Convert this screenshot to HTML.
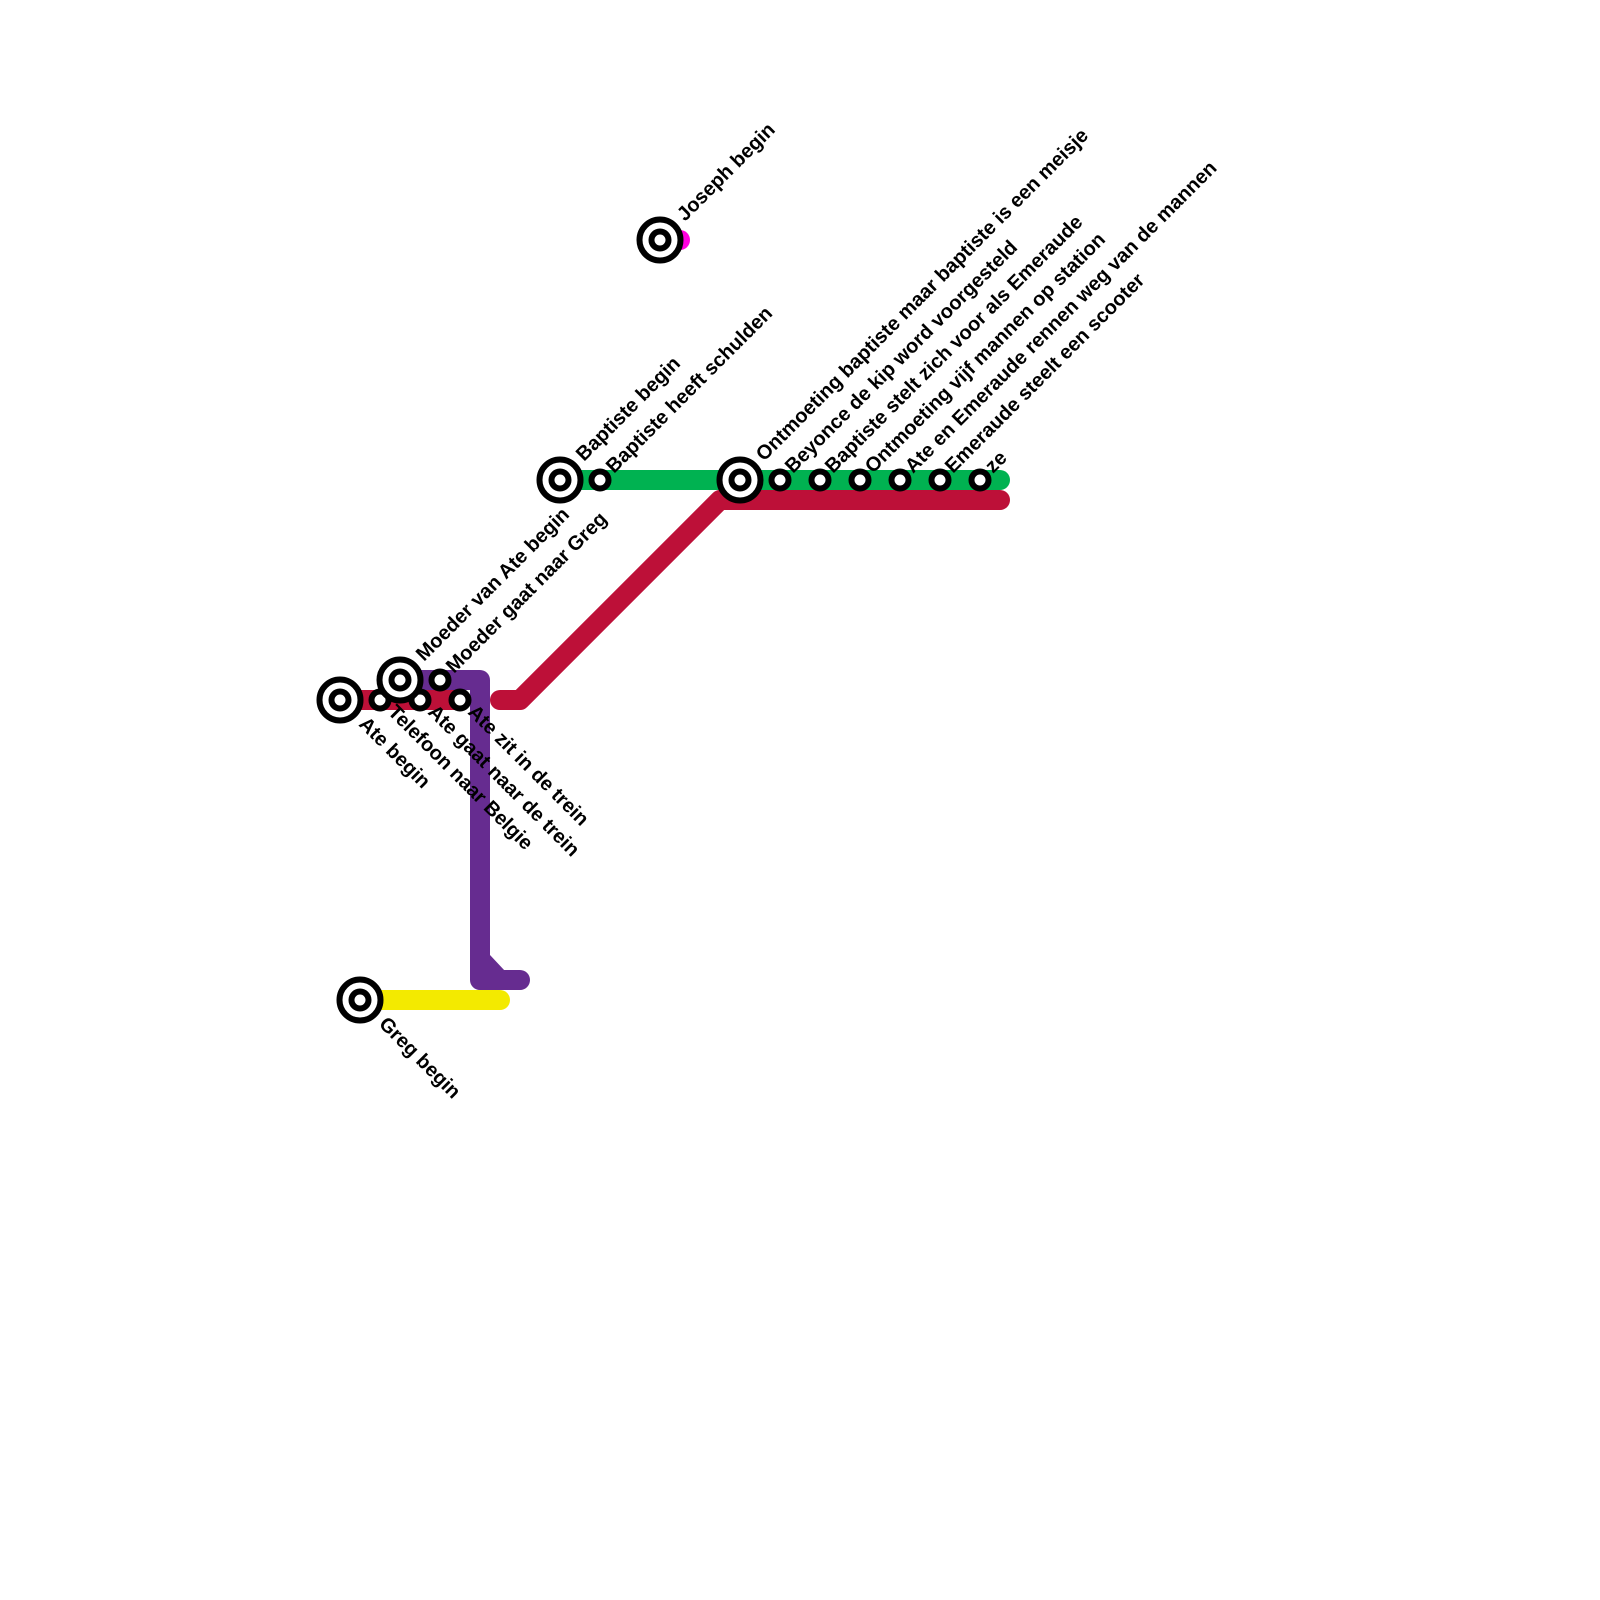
<!DOCTYPE html>
<html><head><meta charset="utf-8"><style>
html,body{margin:0;padding:0;background:#fff}
svg{display:block}
text{font-family:"Liberation Sans",sans-serif;font-weight:bold;font-size:20px;fill:#000}
.l{fill:none;stroke-width:20;stroke-linecap:round;stroke-linejoin:round}
.s{fill:#fff;stroke:#000;stroke-width:6}
</style></head><body>
<svg width="1600" height="1600" viewBox="0 0 1600 1600" xmlns="http://www.w3.org/2000/svg">
<rect width="1600" height="1600" fill="#fff"/>
<path class="l" stroke="#f3ea00" d="M360 1000H500"/>
<path class="l" stroke="#ff00e0" d="M660 240H680"/>
<path class="l" stroke="#00b251" d="M560 480H1000"/>
<path class="l" stroke="#bd1038" d="M340 700H460M500 700H520L720 500H1000"/>
<path class="l" stroke="#662c90" d="M400 680H480V980H520"/>
<polygon fill="#662c90" points="490,955 505,971 490,971"/>
<g class="s">
<circle cx="660" cy="240" r="20.5"/><circle cx="660" cy="240" r="8.5"/>
<circle cx="560" cy="480" r="20.5"/><circle cx="560" cy="480" r="8.5"/>
<circle cx="600" cy="480" r="8.5"/>
<circle cx="740" cy="480" r="20.5"/><circle cx="740" cy="480" r="8.5"/>
<circle cx="780" cy="480" r="8.5"/><circle cx="820" cy="480" r="8.5"/><circle cx="860" cy="480" r="8.5"/>
<circle cx="900" cy="480" r="8.5"/><circle cx="940" cy="480" r="8.5"/><circle cx="980" cy="480" r="8.5"/>
<circle cx="340" cy="700" r="20.5"/><circle cx="340" cy="700" r="8.5"/>
<circle cx="380" cy="700" r="8.5"/><circle cx="420" cy="700" r="8.5"/><circle cx="460" cy="700" r="8.5"/>
<circle cx="400" cy="680" r="20.5"/><circle cx="400" cy="680" r="8.5"/>
<circle cx="440" cy="680" r="8.5"/>
<circle cx="360" cy="1000" r="20.5"/><circle cx="360" cy="1000" r="8.5"/>
</g>
<g>
<text transform="translate(685,222) rotate(-45)">Joseph begin</text>
<text transform="translate(584,462) rotate(-45)">Baptiste begin</text>
<text transform="translate(614,474) rotate(-45)">Baptiste heeft schulden</text>
<text transform="translate(764,462) rotate(-45)">Ontmoeting baptiste maar baptiste is een meisje</text>
<text transform="translate(793,474) rotate(-45)">Beyonce de kip word voorgesteld</text>
<text transform="translate(833,474) rotate(-45)">Baptiste stelt zich voor als Emeraude</text>
<text transform="translate(873,474) rotate(-45)">Ontmoeting vijf mannen op station</text>
<text transform="translate(913,474) rotate(-45)">Ate en Emeraude rennen weg van de mannen</text>
<text transform="translate(953,474) rotate(-45)">Emeraude steelt een scooter</text>
<text transform="translate(993,474) rotate(-45)">ze</text>
<text transform="translate(424,662) rotate(-45)">Moeder van Ate begin</text>
<text transform="translate(454,674) rotate(-45)">Moeder gaat naar Greg</text>
<text transform="translate(358,725) rotate(45)">Ate begin</text>
<text transform="translate(387,713) rotate(45)">Telefoon naar Belgie</text>
<text transform="translate(427,713) rotate(45)">Ate gaat naar de trein</text>
<text transform="translate(467,713) rotate(45)">Ate zit in de trein</text>
<text transform="translate(378,1025) rotate(45)">Greg begin</text>
</g>
</svg>
</body></html>
